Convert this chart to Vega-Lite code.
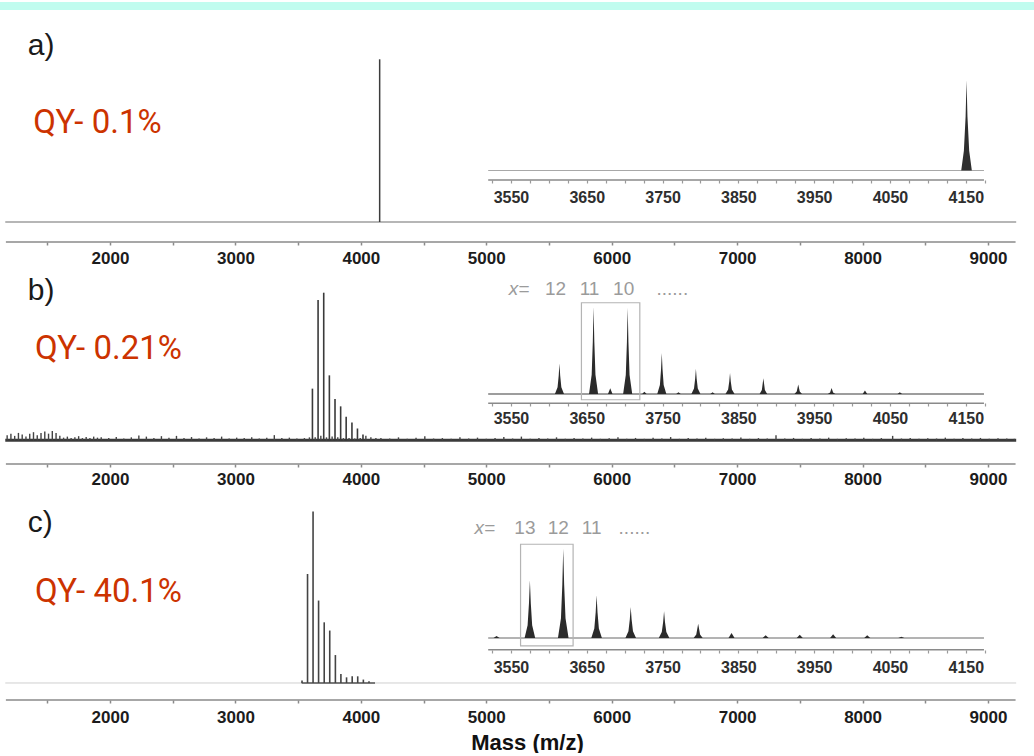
{
  "$schema": "https://vega.github.io/schema/vega-lite/v6.json",
  "padding": 0,
  "background": "white",
  "bounds": "flush",
  "spacing": 0,
  "config": {"view": {"stroke": null}, "font": "Liberation Sans"},
  "datasets": {
    "a_main_peaks": [{"m": 4150, "v": 100}],
    "a_inset": [
      {"m": 3520, "v": 0}, {"m": 4144, "v": 0}, {"m": 4147.5, "v": 22}, {"m": 4149.8, "v": 60}, {"m": 4151, "v": 100},
      {"m": 4152.2, "v": 60}, {"m": 4154.5, "v": 22}, {"m": 4158, "v": 0}, {"m": 4174, "v": 0}
    ],
    "b_main_peaks": [
      {"m": 3614, "v": 35}, {"m": 3659, "v": 95}, {"m": 3704, "v": 100}, {"m": 3749, "v": 44}, {"m": 3794, "v": 28},
      {"m": 3839, "v": 23}, {"m": 3883, "v": 16}, {"m": 3929, "v": 12}, {"m": 3973, "v": 8}, {"m": 4017, "v": 4}
    ],
    "b_noise": [
      {"m": 1180, "v": 3.5}, {"m": 1210, "v": 4.5}, {"m": 1240, "v": 3}, {"m": 1270, "v": 5}, {"m": 1300, "v": 4},
      {"m": 1330, "v": 2.5}, {"m": 1360, "v": 4.5}, {"m": 1390, "v": 5.5}, {"m": 1420, "v": 3.5}, {"m": 1450, "v": 5},
      {"m": 1480, "v": 6}, {"m": 1510, "v": 4.5}, {"m": 1540, "v": 6.3}, {"m": 1570, "v": 5}, {"m": 1600, "v": 3},
      {"m": 1630, "v": 1.8}, {"m": 1660, "v": 2.5}, {"m": 1690, "v": 1.5}, {"m": 1720, "v": 2}, {"m": 1750, "v": 2.8},
      {"m": 1780, "v": 1.5}, {"m": 1810, "v": 2.2}, {"m": 1840, "v": 1.5}, {"m": 1870, "v": 2.5}, {"m": 1900, "v": 1.8},
      {"m": 1930, "v": 2}, {"m": 1990, "v": 1.5}, {"m": 2050, "v": 2.2}, {"m": 2110, "v": 1.2}, {"m": 2170, "v": 2},
      {"m": 2230, "v": 3.2}, {"m": 2290, "v": 2.5}, {"m": 2350, "v": 1.5}, {"m": 2410, "v": 2.8}, {"m": 2470, "v": 1.8},
      {"m": 2530, "v": 3}, {"m": 2590, "v": 1.5}, {"m": 2650, "v": 2.2}, {"m": 2710, "v": 1.2}, {"m": 2770, "v": 2},
      {"m": 2830, "v": 1.5}, {"m": 2890, "v": 2.5}, {"m": 2950, "v": 1.2}, {"m": 3010, "v": 1.8}, {"m": 3070, "v": 1.5},
      {"m": 3130, "v": 2}, {"m": 3190, "v": 1.2}, {"m": 3250, "v": 1.8}, {"m": 3310, "v": 3.5}, {"m": 3370, "v": 1.5},
      {"m": 3430, "v": 1.8}, {"m": 3490, "v": 1.2}, {"m": 3550, "v": 1.5}, {"m": 3590, "v": 2}, {"m": 3636, "v": 2},
      {"m": 3681, "v": 3}, {"m": 3726, "v": 2}, {"m": 3771, "v": 2.5}, {"m": 3816, "v": 2}, {"m": 3861, "v": 1.5},
      {"m": 3906, "v": 1.5}, {"m": 3951, "v": 1.2}, {"m": 3995, "v": 1.5}, {"m": 4040, "v": 3}, {"m": 4080, "v": 2},
      {"m": 4120, "v": 1.5}, {"m": 4160, "v": 1.5}, {"m": 4230, "v": 1.2}, {"m": 4300, "v": 2}, {"m": 4370, "v": 1},
      {"m": 4440, "v": 1.8}, {"m": 4510, "v": 2.8}, {"m": 4580, "v": 1.2}, {"m": 4650, "v": 1.5}, {"m": 4720, "v": 1},
      {"m": 4790, "v": 2}, {"m": 4860, "v": 1.2}, {"m": 4930, "v": 1.8}, {"m": 5000, "v": 1}, {"m": 5070, "v": 1.5},
      {"m": 5140, "v": 2.2}, {"m": 5210, "v": 1.2}, {"m": 5280, "v": 2.5}, {"m": 5350, "v": 1}, {"m": 5420, "v": 1.6},
      {"m": 5490, "v": 1.2}, {"m": 5560, "v": 2}, {"m": 5630, "v": 1}, {"m": 5700, "v": 1.5}, {"m": 5770, "v": 1.2},
      {"m": 5840, "v": 1.8}, {"m": 5910, "v": 1}, {"m": 5980, "v": 1.4}, {"m": 6050, "v": 2}, {"m": 6120, "v": 1.1},
      {"m": 6190, "v": 1.6}, {"m": 6260, "v": 1}, {"m": 6330, "v": 1.8}, {"m": 6400, "v": 1.2}, {"m": 6470, "v": 2.2},
      {"m": 6540, "v": 1}, {"m": 6610, "v": 1.5}, {"m": 6680, "v": 1.2}, {"m": 6750, "v": 1.8}, {"m": 6820, "v": 1},
      {"m": 6890, "v": 1.4}, {"m": 6960, "v": 1.2}, {"m": 7030, "v": 1.9}, {"m": 7100, "v": 1}, {"m": 7170, "v": 1.5},
      {"m": 7240, "v": 1.2}, {"m": 7310, "v": 3.5}, {"m": 7380, "v": 1.2}, {"m": 7450, "v": 1.6}, {"m": 7520, "v": 1},
      {"m": 7590, "v": 1.5}, {"m": 7660, "v": 1.2}, {"m": 7730, "v": 1.8}, {"m": 7800, "v": 1}, {"m": 7870, "v": 1.4},
      {"m": 7940, "v": 1.2}, {"m": 8010, "v": 1.7}, {"m": 8080, "v": 1}, {"m": 8150, "v": 1.5}, {"m": 8240, "v": 3},
      {"m": 8310, "v": 1.2}, {"m": 8380, "v": 1.6}, {"m": 8450, "v": 1}, {"m": 8520, "v": 1.4}, {"m": 8590, "v": 1.2},
      {"m": 8660, "v": 1.8}, {"m": 8730, "v": 1}, {"m": 8800, "v": 1.5}, {"m": 8870, "v": 1.2}, {"m": 8940, "v": 1.6},
      {"m": 9010, "v": 1}, {"m": 9080, "v": 1.4}, {"m": 9150, "v": 1.2}, {"m": 9210, "v": 1}
    ],
    "b_inset": [
      {"m": 3520, "v": 0}, {"m": 3608, "v": 0}, {"m": 3611.5, "v": 7.7}, {"m": 3613, "v": 21}, {"m": 3614, "v": 35}, {"m": 3615, "v": 21}, {"m": 3616.5, "v": 7.7}, {"m": 3620, "v": 0},
      {"m": 3653, "v": 0}, {"m": 3656.5, "v": 22}, {"m": 3658, "v": 60}, {"m": 3659, "v": 100}, {"m": 3660, "v": 60}, {"m": 3661.5, "v": 22}, {"m": 3665, "v": 0},
      {"m": 3678, "v": 0}, {"m": 3681, "v": 6.5}, {"m": 3684, "v": 0},
      {"m": 3698, "v": 0}, {"m": 3701.5, "v": 21.8}, {"m": 3703, "v": 59.4}, {"m": 3704, "v": 99}, {"m": 3705, "v": 59.4}, {"m": 3706.5, "v": 21.8}, {"m": 3710, "v": 0},
      {"m": 3723, "v": 0}, {"m": 3726, "v": 2.5}, {"m": 3729, "v": 0},
      {"m": 3743, "v": 0}, {"m": 3746.5, "v": 10.3}, {"m": 3748, "v": 28.2}, {"m": 3749, "v": 47}, {"m": 3750, "v": 28.2}, {"m": 3751.5, "v": 10.3}, {"m": 3755, "v": 0},
      {"m": 3768, "v": 0}, {"m": 3771, "v": 2}, {"m": 3774, "v": 0},
      {"m": 3788, "v": 0}, {"m": 3791.5, "v": 6.4}, {"m": 3793, "v": 17.4}, {"m": 3794, "v": 29}, {"m": 3795, "v": 17.4}, {"m": 3796.5, "v": 6.4}, {"m": 3800, "v": 0},
      {"m": 3813, "v": 0}, {"m": 3816, "v": 2}, {"m": 3819, "v": 0},
      {"m": 3833, "v": 0}, {"m": 3836.5, "v": 5.3}, {"m": 3838, "v": 14.4}, {"m": 3839, "v": 24}, {"m": 3840, "v": 14.4}, {"m": 3841.5, "v": 5.3}, {"m": 3845, "v": 0},
      {"m": 3878, "v": 0}, {"m": 3881, "v": 4.5}, {"m": 3883, "v": 18}, {"m": 3885, "v": 4.5}, {"m": 3888, "v": 0},
      {"m": 3924, "v": 0}, {"m": 3927, "v": 2.8}, {"m": 3929, "v": 11}, {"m": 3931, "v": 2.8}, {"m": 3934, "v": 0},
      {"m": 3968, "v": 0}, {"m": 3971, "v": 1.8}, {"m": 3973, "v": 7}, {"m": 3975, "v": 1.8}, {"m": 3978, "v": 0},
      {"m": 4014, "v": 0}, {"m": 4017, "v": 4}, {"m": 4020, "v": 0},
      {"m": 4060, "v": 0}, {"m": 4063, "v": 2}, {"m": 4066, "v": 0},
      {"m": 4174, "v": 0}
    ],
    "b_labels": [{"n": "12", "m": 3614}, {"n": "11", "m": 3659}, {"n": "10", "m": 3704}],
    "c_main_peaks": [
      {"m": 3531, "v": 1.5}, {"m": 3575, "v": 63.6}, {"m": 3619, "v": 100}, {"m": 3663, "v": 48.1}, {"m": 3708, "v": 35.4},
      {"m": 3752, "v": 30.6}, {"m": 3797, "v": 16.3}, {"m": 3841, "v": 5.3}, {"m": 3886, "v": 3.3}, {"m": 3931, "v": 3.9},
      {"m": 3975, "v": 3.9}, {"m": 4020, "v": 2}, {"m": 4065, "v": 1}
    ],
    "c_inset": [
      {"m": 3520, "v": 0}, {"m": 3527, "v": 0}, {"m": 3531, "v": 2.2}, {"m": 3535, "v": 0},
      {"m": 3568, "v": 0}, {"m": 3572, "v": 14.2}, {"m": 3573.8, "v": 38.8}, {"m": 3575, "v": 64.6}, {"m": 3576.2, "v": 38.8}, {"m": 3578, "v": 14.2}, {"m": 3582, "v": 0},
      {"m": 3612, "v": 0}, {"m": 3616, "v": 22}, {"m": 3617.8, "v": 60}, {"m": 3619, "v": 100}, {"m": 3620.2, "v": 60}, {"m": 3622, "v": 22}, {"m": 3626, "v": 0},
      {"m": 3656, "v": 0}, {"m": 3660, "v": 10.5}, {"m": 3661.8, "v": 28.7}, {"m": 3663, "v": 47.8}, {"m": 3664.2, "v": 28.7}, {"m": 3666, "v": 10.5}, {"m": 3670, "v": 0},
      {"m": 3701, "v": 0}, {"m": 3705, "v": 7.6}, {"m": 3706.8, "v": 20.8}, {"m": 3708, "v": 34.7}, {"m": 3709.2, "v": 20.8}, {"m": 3711, "v": 7.6}, {"m": 3715, "v": 0},
      {"m": 3745, "v": 0}, {"m": 3749, "v": 6.6}, {"m": 3750.8, "v": 17.9}, {"m": 3752, "v": 29.9}, {"m": 3753.2, "v": 17.9}, {"m": 3755, "v": 6.6}, {"m": 3759, "v": 0},
      {"m": 3791, "v": 0}, {"m": 3794.5, "v": 4}, {"m": 3797, "v": 16}, {"m": 3799.5, "v": 4}, {"m": 3803, "v": 0},
      {"m": 3837, "v": 0}, {"m": 3841, "v": 5.6}, {"m": 3845, "v": 0},
      {"m": 3882, "v": 0}, {"m": 3886, "v": 3}, {"m": 3890, "v": 0},
      {"m": 3927, "v": 0}, {"m": 3931, "v": 3.7}, {"m": 3935, "v": 0},
      {"m": 3971, "v": 0}, {"m": 3975, "v": 4.1}, {"m": 3979, "v": 0},
      {"m": 4016, "v": 0}, {"m": 4020, "v": 3}, {"m": 4024, "v": 0},
      {"m": 4061, "v": 0}, {"m": 4065, "v": 1.5}, {"m": 4069, "v": 0},
      {"m": 4174, "v": 0}
    ],
    "c_labels": [{"n": "13", "m": 3575}, {"n": "12", "m": 3619}, {"n": "11", "m": 3663}]
  },
  "vconcat": [
    {
      "width": 1034,
      "height": 8,
      "view": {"fill": "#c0fcef", "stroke": null},
      "data": {"values": [{}]},
      "mark": {"type": "text"},
      "encoding": {"text": {"value": ""}}
    },
    {
      "width": 1034,
      "height": 232,
      "resolve": {"scale": {"x": "independent", "y": "independent"}, "axis": {"x": "independent", "y": "independent"}},
      "layer": [
        {
          "data": {"values": [{}]},
          "mark": {"type": "rule", "color": "#8a8a8a", "strokeWidth": 1.5},
          "encoding": {
            "x": {"datum": 1170, "type": "quantitative", "scale": {"domain": [1123, 9367], "nice": false, "zero": false}, "axis": null},
            "x2": {"datum": 9220},
            "y": {"datum": -12.29, "type": "quantitative", "scale": {"domain": [-12.29, 130.3], "nice": false, "zero": false}, "axis": null}
          }
        },
        {
          "data": {"values": [{}]},
          "mark": {"type": "rule", "color": "#6e6e6e", "strokeWidth": 1.2},
          "encoding": {
            "x": {"datum": 1165, "type": "quantitative", "scale": {"domain": [1123, 9367], "nice": false, "zero": false}, "axis": null},
            "x2": {"datum": 9225},
            "y": {"datum": 0, "type": "quantitative", "scale": {"domain": [-12.29, 130.3], "nice": false, "zero": false}, "axis": null}
          }
        },
        {
          "data": {"name": "a_main_peaks"},
          "mark": {"type": "rule", "color": "#3c3c3c", "strokeWidth": 1.5},
          "encoding": {
            "x": {"field": "m", "type": "quantitative", "scale": {"domain": [1123, 9367], "nice": false, "zero": false},
              "axis": {"orient": "bottom", "values": [1500, 2000, 2500, 3000, 3500, 4000, 4500, 5000, 5500, 6000, 6500, 7000, 7500, 8000, 8500, 9000],
                "labelExpr": "datum.value % 1000 === 0 ? format(datum.value, 'd') : ''", "domain": false, "grid": false,
                "tickSize": 3, "tickColor": "#8a8a8a", "tickWidth": 1.5, "labelFont": "Liberation Sans", "labelFontWeight": "bold",
                "labelFontSize": 17, "labelColor": "#1c1c1c", "labelPadding": 5, "labelOverlap": false, "labelFlush": false, "title": null}},
            "y": {"field": "v", "type": "quantitative", "scale": {"domain": [-12.29, 130.3], "nice": false, "zero": false}, "axis": null},
            "y2": {"datum": 0}
          }
        },
        {
          "data": {"values": [{"label": "a)"}]},
          "mark": {"type": "text", "font": "Liberation Sans", "fontSize": 30, "color": "#1a1a1a", "align": "left", "baseline": "alphabetic"},
          "encoding": {
            "x": {"datum": 1345, "type": "quantitative", "scale": {"domain": [1123, 9367], "nice": false, "zero": false}, "axis": null},
            "y": {"datum": 102.5, "type": "quantitative", "scale": {"domain": [-12.29, 130.3], "nice": false, "zero": false}, "axis": null},
            "text": {"field": "label"}
          }
        },
        {
          "data": {"values": [{"label": "QY- 0.1%"}]},
          "mark": {"type": "text", "font": "Roboto", "fontSize": 33, "color": "#cc3300", "align": "left", "baseline": "alphabetic"},
          "encoding": {
            "x": {"datum": 1388, "type": "quantitative", "scale": {"domain": [1123, 9367], "nice": false, "zero": false}, "axis": null},
            "y": {"datum": 54.9, "type": "quantitative", "scale": {"domain": [-12.29, 130.3], "nice": false, "zero": false}, "axis": null},
            "text": {"field": "label"}
          }
        },
        {
          "data": {"values": [{}]},
          "mark": {"type": "rule", "color": "#8a8a8a", "strokeWidth": 1.5},
          "encoding": {
            "x": {"datum": 3520, "type": "quantitative", "scale": {"domain": [2876, 4240], "nice": false, "zero": false}, "axis": null},
            "x2": {"datum": 4174},
            "y": {"datum": -10.53, "type": "quantitative", "scale": {"domain": [-79.27, 177.9], "nice": false, "zero": false}, "axis": null}
          }
        },
        {
          "data": {"values": [{}]},
          "mark": {"type": "rule", "color": "#a8a8a8", "strokeWidth": 1.2},
          "encoding": {
            "x": {"datum": 3520, "type": "quantitative", "scale": {"domain": [2876, 4240], "nice": false, "zero": false}, "axis": null},
            "x2": {"datum": 4174},
            "y": {"datum": 0, "type": "quantitative", "scale": {"domain": [-79.27, 177.9], "nice": false, "zero": false}, "axis": null}
          }
        },
        {
          "data": {"name": "a_inset"},
          "mark": {"type": "area", "color": "#2e2e2e"},
          "encoding": {
            "x": {"field": "m", "type": "quantitative", "scale": {"domain": [2876, 4240], "nice": false, "zero": false},
              "axis": {"orient": "bottom", "offset": -62, "values": [3525, 3550, 3575, 3600, 3625, 3650, 3675, 3700, 3725, 3750, 3775, 3800, 3825, 3850, 3875, 3900, 3925, 3950, 3975, 4000, 4025, 4050, 4075, 4100, 4125, 4150, 4175],
                "labelExpr": "(datum.value - 3550) % 100 === 0 ? format(datum.value, 'd') : ''", "domain": false, "grid": false,
                "tickSize": 3, "tickColor": "#9a9a9a", "tickWidth": 1.2, "labelFont": "Liberation Sans", "labelFontWeight": "bold",
                "labelFontSize": 16, "labelColor": "#2e2e2e", "labelPadding": 6, "labelOverlap": false, "labelFlush": false, "title": null}},
            "y": {"field": "v", "type": "quantitative", "scale": {"domain": [-79.27, 177.9], "nice": false, "zero": false}, "axis": null},
            "y2": {"datum": 0}
          }
        }
      ]
    },
    {
      "width": 1034,
      "height": 222,
      "resolve": {"scale": {"x": "independent", "y": "independent"}, "axis": {"x": "independent", "y": "independent"}},
      "layer": [
        {
          "data": {"values": [{}]},
          "mark": {"type": "rule", "color": "#8a8a8a", "strokeWidth": 1.5},
          "encoding": {
            "x": {"datum": 1170, "type": "quantitative", "scale": {"domain": [1123, 9367], "nice": false, "zero": false}, "axis": null},
            "x2": {"datum": 9220},
            "y": {"datum": -16.06, "type": "quantitative", "scale": {"domain": [-16.06, 134.35], "nice": false, "zero": false}, "axis": null}
          }
        },
        {
          "data": {"values": [{}]},
          "mark": {"type": "rule", "color": "#3a3a3a", "strokeWidth": 3},
          "encoding": {
            "x": {"datum": 1165, "type": "quantitative", "scale": {"domain": [1123, 9367], "nice": false, "zero": false}, "axis": null},
            "x2": {"datum": 9225},
            "y": {"datum": 0, "type": "quantitative", "scale": {"domain": [-16.06, 134.35], "nice": false, "zero": false}, "axis": null}
          }
        },
        {
          "data": {"name": "b_noise"},
          "mark": {"type": "rule", "color": "#444444", "strokeWidth": 1.4},
          "encoding": {
            "x": {"field": "m", "type": "quantitative", "scale": {"domain": [1123, 9367], "nice": false, "zero": false}, "axis": null},
            "y": {"field": "v", "type": "quantitative", "scale": {"domain": [-16.06, 134.35], "nice": false, "zero": false}, "axis": null},
            "y2": {"datum": 0}
          }
        },
        {
          "data": {"name": "b_main_peaks"},
          "mark": {"type": "rule", "color": "#3a3a3a", "strokeWidth": 1.6},
          "encoding": {
            "x": {"field": "m", "type": "quantitative", "scale": {"domain": [1123, 9367], "nice": false, "zero": false},
              "axis": {"orient": "bottom", "values": [1500, 2000, 2500, 3000, 3500, 4000, 4500, 5000, 5500, 6000, 6500, 7000, 7500, 8000, 8500, 9000],
                "labelExpr": "datum.value % 1000 === 0 ? format(datum.value, 'd') : ''", "domain": false, "grid": false,
                "tickSize": 3, "tickColor": "#8a8a8a", "tickWidth": 1.5, "labelFont": "Liberation Sans", "labelFontWeight": "bold",
                "labelFontSize": 17, "labelColor": "#1c1c1c", "labelPadding": 4, "labelOverlap": false, "labelFlush": false, "title": null}},
            "y": {"field": "v", "type": "quantitative", "scale": {"domain": [-16.06, 134.35], "nice": false, "zero": false}, "axis": null},
            "y2": {"datum": 0}
          }
        },
        {
          "data": {"values": [{"label": "b)"}]},
          "mark": {"type": "text", "font": "Liberation Sans", "fontSize": 30, "color": "#1a1a1a", "align": "left", "baseline": "alphabetic"},
          "encoding": {
            "x": {"datum": 1345, "type": "quantitative", "scale": {"domain": [1123, 9367], "nice": false, "zero": false}, "axis": null},
            "y": {"datum": 94.8, "type": "quantitative", "scale": {"domain": [-16.06, 134.35], "nice": false, "zero": false}, "axis": null},
            "text": {"field": "label"}
          }
        },
        {
          "data": {"values": [{"label": "QY- 0.21%"}]},
          "mark": {"type": "text", "font": "Roboto", "fontSize": 33, "color": "#cc3300", "align": "left", "baseline": "alphabetic"},
          "encoding": {
            "x": {"datum": 1402, "type": "quantitative", "scale": {"domain": [1123, 9367], "nice": false, "zero": false}, "axis": null},
            "y": {"datum": 54.9, "type": "quantitative", "scale": {"domain": [-16.06, 134.35], "nice": false, "zero": false}, "axis": null},
            "text": {"field": "label"}
          }
        },
        {
          "data": {"values": [{}]},
          "mark": {"type": "rule", "color": "#8a8a8a", "strokeWidth": 1.5},
          "encoding": {
            "x": {"datum": 3520, "type": "quantitative", "scale": {"domain": [2876, 4240], "nice": false, "zero": false}, "axis": null},
            "x2": {"datum": 4174},
            "y": {"datum": -10.6, "type": "quantitative", "scale": {"domain": [-80.46, 174.7], "nice": false, "zero": false}, "axis": null}
          }
        },
        {
          "data": {"values": [{}]},
          "mark": {"type": "rule", "color": "#7c7c7c", "strokeWidth": 1.5},
          "encoding": {
            "x": {"datum": 3520, "type": "quantitative", "scale": {"domain": [2876, 4240], "nice": false, "zero": false}, "axis": null},
            "x2": {"datum": 4174},
            "y": {"datum": 0, "type": "quantitative", "scale": {"domain": [-80.46, 174.7], "nice": false, "zero": false}, "axis": null}
          }
        },
        {
          "data": {"values": [{}]},
          "mark": {"type": "rect", "fill": "white", "fillOpacity": 0, "stroke": "#b4b4b4", "strokeWidth": 1.2},
          "encoding": {
            "x": {"datum": 3643, "type": "quantitative", "scale": {"domain": [2876, 4240], "nice": false, "zero": false}, "axis": null},
            "x2": {"datum": 3720},
            "y": {"datum": 104.9, "type": "quantitative", "scale": {"domain": [-80.46, 174.7], "nice": false, "zero": false}, "axis": null},
            "y2": {"datum": -6.6}
          }
        },
        {
          "data": {"name": "b_inset"},
          "mark": {"type": "area", "color": "#2b2b2b"},
          "encoding": {
            "x": {"field": "m", "type": "quantitative", "scale": {"domain": [2876, 4240], "nice": false, "zero": false},
              "axis": {"orient": "bottom", "offset": -61, "values": [3525, 3550, 3575, 3600, 3625, 3650, 3675, 3700, 3725, 3750, 3775, 3800, 3825, 3850, 3875, 3900, 3925, 3950, 3975, 4000, 4025, 4050, 4075, 4100, 4125, 4150, 4175],
                "labelExpr": "(datum.value - 3550) % 100 === 0 ? format(datum.value, 'd') : ''", "domain": false, "grid": false,
                "tickSize": 3, "tickColor": "#9a9a9a", "tickWidth": 1.2, "labelFont": "Liberation Sans", "labelFontWeight": "bold",
                "labelFontSize": 16, "labelColor": "#2e2e2e", "labelPadding": 4, "labelOverlap": false, "labelFlush": false, "title": null}},
            "y": {"field": "v", "type": "quantitative", "scale": {"domain": [-80.46, 174.7], "nice": false, "zero": false}, "axis": null},
            "y2": {"datum": 0}
          }
        },
        {
          "data": {"values": [{"t": "x="}]},
          "mark": {"type": "text", "font": "Liberation Sans", "fontSize": 19, "fontStyle": "italic", "color": "#9b9b9b", "align": "left", "baseline": "alphabetic"},
          "encoding": {
            "x": {"datum": 3547, "type": "quantitative", "scale": {"domain": [2876, 4240], "nice": false, "zero": false}, "axis": null},
            "y": {"datum": 113.4, "type": "quantitative", "scale": {"domain": [-80.46, 174.7], "nice": false, "zero": false}, "axis": null},
            "text": {"field": "t"}
          }
        },
        {
          "data": {"name": "b_labels"},
          "mark": {"type": "text", "font": "Liberation Sans", "fontSize": 19, "color": "#9b9b9b", "align": "center", "baseline": "alphabetic", "dx": -4},
          "encoding": {
            "x": {"field": "m", "type": "quantitative", "scale": {"domain": [2876, 4240], "nice": false, "zero": false}, "axis": null},
            "y": {"datum": 113.4, "type": "quantitative", "scale": {"domain": [-80.46, 174.7], "nice": false, "zero": false}, "axis": null},
            "text": {"field": "n"}
          }
        },
        {
          "data": {"values": [{"t": "......"}]},
          "mark": {"type": "text", "font": "Liberation Sans", "fontSize": 19, "color": "#9b9b9b", "align": "left", "baseline": "alphabetic"},
          "encoding": {
            "x": {"datum": 3742, "type": "quantitative", "scale": {"domain": [2876, 4240], "nice": false, "zero": false}, "axis": null},
            "y": {"datum": 113.4, "type": "quantitative", "scale": {"domain": [-80.46, 174.7], "nice": false, "zero": false}, "axis": null},
            "text": {"field": "t"}
          }
        }
      ]
    },
    {
      "width": 1034,
      "height": 236,
      "resolve": {"scale": {"x": "independent", "y": "independent"}, "axis": {"x": "independent", "y": "independent"}},
      "layer": [
        {
          "data": {"values": [{}]},
          "mark": {"type": "rule", "color": "#8a8a8a", "strokeWidth": 1.5},
          "encoding": {
            "x": {"datum": 1170, "type": "quantitative", "scale": {"domain": [1123, 9367], "nice": false, "zero": false}, "axis": null},
            "x2": {"datum": 9220},
            "y": {"datum": -9.92, "type": "quantitative", "scale": {"domain": [-9.92, 127.77], "nice": false, "zero": false}, "axis": null}
          }
        },
        {
          "data": {"values": [{}]},
          "mark": {"type": "rule", "color": "#cfcfcf", "strokeWidth": 1},
          "encoding": {
            "x": {"datum": 1165, "type": "quantitative", "scale": {"domain": [1123, 9367], "nice": false, "zero": false}, "axis": null},
            "x2": {"datum": 9225},
            "y": {"datum": 0, "type": "quantitative", "scale": {"domain": [-9.92, 127.77], "nice": false, "zero": false}, "axis": null}
          }
        },
        {
          "data": {"values": [{}]},
          "mark": {"type": "rule", "color": "#555555", "strokeWidth": 1.3},
          "encoding": {
            "x": {"datum": 3528, "type": "quantitative", "scale": {"domain": [1123, 9367], "nice": false, "zero": false}, "axis": null},
            "x2": {"datum": 4113},
            "y": {"datum": 0, "type": "quantitative", "scale": {"domain": [-9.92, 127.77], "nice": false, "zero": false}, "axis": null}
          }
        },
        {
          "data": {"name": "c_main_peaks"},
          "mark": {"type": "rule", "color": "#444444", "strokeWidth": 1.6},
          "encoding": {
            "x": {"field": "m", "type": "quantitative", "scale": {"domain": [1123, 9367], "nice": false, "zero": false},
              "axis": {"orient": "bottom", "values": [1500, 2000, 2500, 3000, 3500, 4000, 4500, 5000, 5500, 6000, 6500, 7000, 7500, 8000, 8500, 9000],
                "labelExpr": "datum.value % 1000 === 0 ? format(datum.value, 'd') : ''", "domain": false, "grid": false,
                "tickSize": 3, "tickColor": "#8a8a8a", "tickWidth": 1.5, "labelFont": "Liberation Sans", "labelFontWeight": "bold",
                "labelFontSize": 17, "labelColor": "#1c1c1c", "labelPadding": 6, "labelOverlap": false, "labelFlush": false,
                "title": "Mass (m/z)", "titleFont": "Liberation Sans", "titleFontWeight": "bold", "titleFontSize": 22, "titleColor": "#111111",
                "titlePadding": 7, "titleX": 527}},
            "y": {"field": "v", "type": "quantitative", "scale": {"domain": [-9.92, 127.77], "nice": false, "zero": false}, "axis": null},
            "y2": {"datum": 0}
          }
        },
        {
          "data": {"values": [{"label": "c)"}]},
          "mark": {"type": "text", "font": "Liberation Sans", "fontSize": 30, "color": "#1a1a1a", "align": "left", "baseline": "alphabetic"},
          "encoding": {
            "x": {"datum": 1345, "type": "quantitative", "scale": {"domain": [1123, 9367], "nice": false, "zero": false}, "axis": null},
            "y": {"datum": 88.1, "type": "quantitative", "scale": {"domain": [-9.92, 127.77], "nice": false, "zero": false}, "axis": null},
            "text": {"field": "label"}
          }
        },
        {
          "data": {"values": [{"label": "QY- 40.1%"}]},
          "mark": {"type": "text", "font": "Roboto", "fontSize": 33, "color": "#cc3300", "align": "left", "baseline": "alphabetic"},
          "encoding": {
            "x": {"datum": 1402, "type": "quantitative", "scale": {"domain": [1123, 9367], "nice": false, "zero": false}, "axis": null},
            "y": {"datum": 47.3, "type": "quantitative", "scale": {"domain": [-9.92, 127.77], "nice": false, "zero": false}, "axis": null},
            "text": {"field": "label"}
          }
        },
        {
          "data": {"values": [{}]},
          "mark": {"type": "rule", "color": "#8a8a8a", "strokeWidth": 1.5},
          "encoding": {
            "x": {"datum": 3520, "type": "quantitative", "scale": {"domain": [2876, 4240], "nice": false, "zero": false}, "axis": null},
            "x2": {"datum": 4174},
            "y": {"datum": -13.1, "type": "quantitative", "scale": {"domain": [-69.43, 194.85], "nice": false, "zero": false}, "axis": null}
          }
        },
        {
          "data": {"values": [{}]},
          "mark": {"type": "rule", "color": "#9a9a9a", "strokeWidth": 1.5},
          "encoding": {
            "x": {"datum": 3520, "type": "quantitative", "scale": {"domain": [2876, 4240], "nice": false, "zero": false}, "axis": null},
            "x2": {"datum": 4174},
            "y": {"datum": 0, "type": "quantitative", "scale": {"domain": [-69.43, 194.85], "nice": false, "zero": false}, "axis": null}
          }
        },
        {
          "data": {"values": [{}]},
          "mark": {"type": "rect", "fill": "white", "fillOpacity": 0, "stroke": "#b4b4b4", "strokeWidth": 1.2},
          "encoding": {
            "x": {"datum": 3562.7, "type": "quantitative", "scale": {"domain": [2876, 4240], "nice": false, "zero": false}, "axis": null},
            "x2": {"datum": 3632},
            "y": {"datum": 105, "type": "quantitative", "scale": {"domain": [-69.43, 194.85], "nice": false, "zero": false}, "axis": null},
            "y2": {"datum": -8.9}
          }
        },
        {
          "data": {"name": "c_inset"},
          "mark": {"type": "area", "color": "#2b2b2b"},
          "encoding": {
            "x": {"field": "m", "type": "quantitative", "scale": {"domain": [2876, 4240], "nice": false, "zero": false},
              "axis": {"orient": "bottom", "offset": -50, "values": [3525, 3550, 3575, 3600, 3625, 3650, 3675, 3700, 3725, 3750, 3775, 3800, 3825, 3850, 3875, 3900, 3925, 3950, 3975, 4000, 4025, 4050, 4075, 4100, 4125, 4150, 4175],
                "labelExpr": "(datum.value - 3550) % 100 === 0 ? format(datum.value, 'd') : ''", "domain": false, "grid": false,
                "tickSize": 3, "tickColor": "#9a9a9a", "tickWidth": 1.2, "labelFont": "Liberation Sans", "labelFontWeight": "bold",
                "labelFontSize": 16, "labelColor": "#2e2e2e", "labelPadding": 6, "labelOverlap": false, "labelFlush": false, "title": null}},
            "y": {"field": "v", "type": "quantitative", "scale": {"domain": [-69.43, 194.85], "nice": false, "zero": false}, "axis": null},
            "y2": {"datum": 0}
          }
        },
        {
          "data": {"values": [{"t": "x="}]},
          "mark": {"type": "text", "font": "Liberation Sans", "fontSize": 19, "fontStyle": "italic", "color": "#9b9b9b", "align": "left", "baseline": "alphabetic"},
          "encoding": {
            "x": {"datum": 3502, "type": "quantitative", "scale": {"domain": [2876, 4240], "nice": false, "zero": false}, "axis": null},
            "y": {"datum": 116.8, "type": "quantitative", "scale": {"domain": [-69.43, 194.85], "nice": false, "zero": false}, "axis": null},
            "text": {"field": "t"}
          }
        },
        {
          "data": {"name": "c_labels"},
          "mark": {"type": "text", "font": "Liberation Sans", "fontSize": 19, "color": "#9b9b9b", "align": "center", "baseline": "alphabetic", "dx": -5},
          "encoding": {
            "x": {"field": "m", "type": "quantitative", "scale": {"domain": [2876, 4240], "nice": false, "zero": false}, "axis": null},
            "y": {"datum": 116.8, "type": "quantitative", "scale": {"domain": [-69.43, 194.85], "nice": false, "zero": false}, "axis": null},
            "text": {"field": "n"}
          }
        },
        {
          "data": {"values": [{"t": "......"}]},
          "mark": {"type": "text", "font": "Liberation Sans", "fontSize": 19, "color": "#9b9b9b", "align": "left", "baseline": "alphabetic"},
          "encoding": {
            "x": {"datum": 3692, "type": "quantitative", "scale": {"domain": [2876, 4240], "nice": false, "zero": false}, "axis": null},
            "y": {"datum": 116.8, "type": "quantitative", "scale": {"domain": [-69.43, 194.85], "nice": false, "zero": false}, "axis": null},
            "text": {"field": "t"}
          }
        }
      ]
    }
  ]
}
